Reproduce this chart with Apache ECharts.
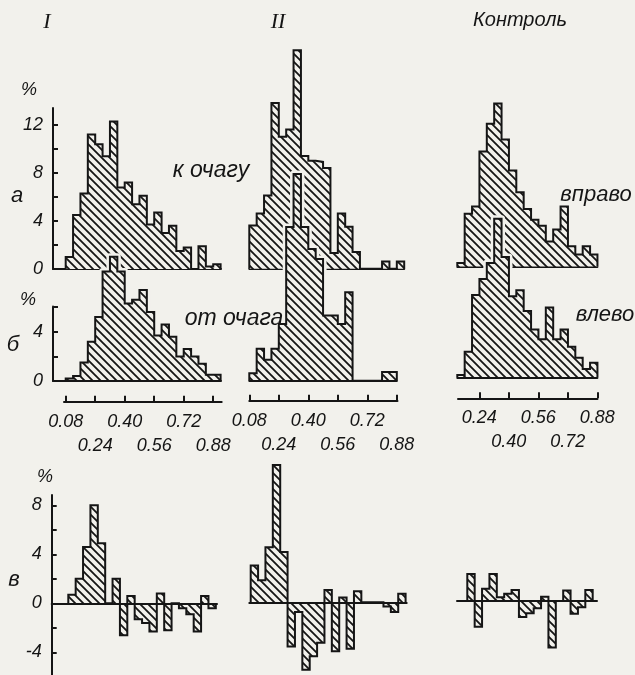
<!DOCTYPE html>
<html>
<head>
<meta charset="utf-8">
<script src="https://cdn.jsdelivr.net/npm/echarts@6/dist/echarts.min.js"></script>
<style>
  html, body { margin: 0; padding: 0; background: #f2f1ec; }
  #chart { width: 635px; height: 675px; }
</style>
</head>
<body>
<div id="chart"></div>
<script>
// ---- data: class frequencies (%) in bins of width 0.04 ----
const BIN = 0.04;

// Series I
const startI = 0.08;
const towardI = [1.0, 4.5, 6.3, 11.2, 10.4, 9.4, 12.3, 6.8, 7.2, 5.4, 6.1, 3.7, 4.7, 3.0, 3.6, 1.5, 1.8, 0, 1.9, 0.2, 0.4];
const awayI   = [0.2, 0.4, 1.5, 3.2, 5.2, 8.9, 10.1, 8.9, 6.3, 6.6, 7.4, 5.6, 3.7, 4.6, 3.6, 2.0, 2.6, 2.0, 1.4, 0.5, 0.5];
const diffI   = [0.7, 2.0, 4.6, 8.0, 4.9, 0, 2.0, -2.6, 0.6, -1.3, -1.6, -2.3, 0.8, -2.2, 0, -0.4, -0.9, -2.3, 0.6, -0.4];

// Series II
const startII = 0.08;
const towardII = [3.6, 4.6, 6.1, 13.8, 11.0, 11.6, 18.2, 9.4, 9.0, 8.9, 8.4, 1.3, 4.6, 3.5, 1.4, 0, 0, 0, 0.6, 0, 0.6];
const awayII   = [0.6, 2.6, 1.7, 2.6, 4.6, 12.5, 16.8, 12.5, 10.7, 9.9, 5.3, 5.3, 4.6, 7.2, 0, 0, 0, 0, 0.7, 0.7];
const diffII   = [3.0, 1.8, 4.5, 11.2, 4.1, -3.6, -0.8, -5.5, -4.4, -3.3, 1.0, -4.0, 0.4, -3.8, 0.9, 0, 0, 0, -0.35, -0.8, 0.7];

// Control
const startCtrl = 0.12;
const rightCtrl = [0.3, 4.4, 5.0, 9.6, 11.9, 13.6, 10.6, 8.0, 6.2, 4.8, 3.9, 3.4, 2.1, 3.1, 5.0, 1.7, 1.0, 1.7, 1.0];
const leftCtrl  = [0.2, 2.1, 6.7, 8.0, 9.3, 12.9, 9.8, 6.6, 7.1, 5.4, 3.9, 3.1, 5.7, 3.1, 3.9, 2.5, 1.6, 0.7, 1.2];
const startCtrlDiff = 0.16;
const diffCtrl  = [2.2, -2.1, 1.0, 2.2, 0.3, 0.6, 0.9, -1.3, -1.0, -0.6, 0.35, -3.8, 0, 0.85, -1.05, -0.5, 0.9];

// ---- tick values ----
const xTicksI = [0.08, 0.24, 0.40, 0.56, 0.72, 0.88];
const xTicksCtrl = [0.24, 0.40, 0.56, 0.72, 0.88];
const yTicksA = [0, 2, 4, 6, 8, 10, 12];
const yLabelsA = [0, 4, 8, 12];
const yTicksB = [0, 2, 4, 6];
const yLabelsB = [0, 4];
const yTicksC = [-4, -2, 0, 2, 4, 6, 8];
const yLabelsC = [-4, 0, 4, 8];

// ---- styling ----
const INK = '#151515';
const PAPER = '#f2f1ec';
const FONT = '"Liberation Sans", "DejaVu Sans", sans-serif';
const PX = 184.4;   // horizontal pixels per unit of the x value

function hatchCanvas() {
  const s = 8;
  const c = document.createElement('canvas');
  c.width = s; c.height = s;
  const g = c.getContext('2d');
  g.fillStyle = PAPER;
  g.fillRect(0, 0, s, s);
  g.strokeStyle = INK;
  g.lineWidth = 1.8;
  g.beginPath();
  g.moveTo(-1, -1); g.lineTo(s + 1, s + 1);
  g.moveTo(-1, s - 1); g.lineTo(1, s + 1);
  g.moveTo(s - 1, -1); g.lineTo(s + 1, 1);
  g.stroke();
  return c;
}
const HATCH = { image: hatchCanvas(), repeat: 'repeat' };

// outline of a histogram: corner points of every bin
function steps(start, vals) {
  const pts = [[start, 0]];
  vals.forEach((v, i) => {
    const x0 = start + i * BIN;
    pts.push([x0, v], [x0 + BIN, v]);
  });
  pts.push([start + vals.length * BIN, 0]);
  return pts;
}

const grids = [], xAxes = [], yAxes = [], series = [];

function addPanel(p) {
  const idx = grids.length;
  grids.push({
    left: p.left, top: p.top, width: p.right - p.left, height: p.bottom - p.top,
    containLabel: false, outerBoundsMode: 'none'
  });
  xAxes.push({
    gridIndex: idx, type: 'value',
    min: p.xRef[1] + (p.left - p.xRef[0]) / PX,
    max: p.xRef[1] + (p.right - p.xRef[0]) / PX,
    z: p.xz || 0,
    axisLine: { show: true, onZero: true, lineStyle: { color: INK, width: 2 } },
    axisTick: { show: false }, axisLabel: { show: false }, splitLine: { show: false }
  });
  const y = {
    gridIndex: idx, type: 'value',
    min: -(p.bottom - p.yZero) / p.yPx,
    max: (p.yZero - p.top) / p.yPx,
    splitLine: { show: false },
    axisLine: { show: false, onZero: false },
    axisTick: { show: false }, axisLabel: { show: false }
  };
  if (p.yTicks) {
    y.axisLine = { show: true, onZero: false, lineStyle: { color: INK, width: 2 } };
    y.axisTick = { show: true, inside: true, length: 5, customValues: p.yTicks, lineStyle: { color: INK, width: 2 } };
    y.axisLabel = {
      show: true, customValues: p.yLabels, margin: 10,
      showMinLabel: true, showMaxLabel: true, hideOverlap: false,
      color: INK, fontSize: 18, fontStyle: 'italic', fontFamily: FONT,
      formatter: v => (v < 0 ? '-' + Math.abs(v) : String(v))
    };
  }
  yAxes.push(y);
  return idx;
}

function addHist(idx, start, vals, z, halo) {
  const data = steps(start, vals);
  if (halo) {
    series.push({
      type: 'line', xAxisIndex: idx, yAxisIndex: idx, data,
      showSymbol: false, symbol: 'none', clip: false, silent: true, z: z - 1,
      lineStyle: { color: PAPER, width: 7, cap: 'round', join: 'round' },
      areaStyle: { color: PAPER, opacity: 1 }
    });
  }
  series.push({
    type: 'line', xAxisIndex: idx, yAxisIndex: idx, data,
    showSymbol: false, symbol: 'none', clip: false, silent: true, z,
    lineStyle: { color: INK, width: 2, join: 'miter' },
    areaStyle: { color: HATCH, opacity: 1 }
  });
}

// x scale with ticks; labels alternate between two rows
function addTickAxis(p) {
  const idx = grids.length;
  grids.push({ left: p.left, top: p.y - 10, width: p.right - p.left, height: 10, containLabel: false, outerBoundsMode: 'none' });
  const min = p.xRef[1] + (p.left - p.xRef[0]) / PX;
  const max = p.xRef[1] + (p.right - p.xRef[0]) / PX;
  const row1 = p.ticks.filter((t, i) => i % 2 === 0);
  const row2 = p.ticks.filter((t, i) => i % 2 === 1);
  const lbl = (values, margin) => ({
    show: true, customValues: values, margin,
    showMinLabel: true, showMaxLabel: true, hideOverlap: false,
    color: INK, fontSize: 18, fontStyle: 'italic', fontFamily: FONT,
    formatter: v => v.toFixed(2)
  });
  xAxes.push({
    gridIndex: idx, type: 'value', position: 'bottom', min, max,
    axisLine: { show: true, onZero: false, lineStyle: { color: INK, width: 2 } },
    axisTick: { show: true, inside: true, length: 6, customValues: p.ticks, lineStyle: { color: INK, width: 2 } },
    axisLabel: lbl(row1, 11),
    splitLine: { show: false }
  });
  xAxes.push({
    gridIndex: idx, type: 'value', position: 'bottom', min, max,
    axisLine: { show: false, onZero: false },
    axisTick: { show: false },
    axisLabel: lbl(row2, 35),
    splitLine: { show: false }
  });
  yAxes.push({ gridIndex: idx, type: 'value', show: false, min: 0, max: 1 });
}

// ---- column I ----
const iA = addPanel({ left: 53, right: 221, top: 108, bottom: 269, yZero: 269, yPx: 12, xRef: [65.7, 0.08], yTicks: yTicksA, yLabels: yLabelsA });
addHist(iA, startI, towardI, 2, false);
const iB = addPanel({ left: 53, right: 221, top: 306.5, bottom: 381, yZero: 381, yPx: 12.3, xRef: [65.7, 0.08], yTicks: yTicksB, yLabels: yLabelsB, xz: 6 });
addHist(iB, startI, awayI, 5, true);
const iC = addPanel({ left: 51.7, right: 217, top: 495, bottom: 675, yZero: 603.3, yPx: 12.25, xRef: [68.3, 0.08], yTicks: yTicksC, yLabels: yLabelsC, xz: 6 });
addHist(iC, startI, diffI, 2, false);

// ---- column II ----
const iiA = addPanel({ left: 249.3, right: 404.2, top: 40, bottom: 268.7, yZero: 268.7, yPx: 12, xRef: [249.3, 0.08] });
addHist(iiA, startII, towardII, 2, false);
const iiB = addPanel({ left: 249.3, right: 396.9, top: 306, bottom: 380.7, yZero: 380.7, yPx: 12.3, xRef: [249.3, 0.08], xz: 6 });
addHist(iiB, startII, awayII, 5, true);
const iiC = addPanel({ left: 249.3, right: 406.7, top: 495, bottom: 675, yZero: 602.3, yPx: 12.25, xRef: [250.7, 0.08], xz: 6 });
addHist(iiC, startII, diffII, 2, false);

// ---- control ----
const cA = addPanel({ left: 457.3, right: 597.4, top: 90, bottom: 266.6, yZero: 266.6, yPx: 12, xRef: [457.3, 0.12] });
addHist(cA, startCtrl, rightCtrl, 2, false);
const cB = addPanel({ left: 457.3, right: 597.4, top: 306, bottom: 377.5, yZero: 377.5, yPx: 12.3, xRef: [457.3, 0.12], xz: 6 });
addHist(cB, startCtrl, leftCtrl, 5, true);
const cC = addPanel({ left: 457, right: 597, top: 540, bottom: 665, yZero: 601, yPx: 12.25, xRef: [467.3, 0.16], xz: 6 });
addHist(cC, startCtrlDiff, diffCtrl, 2, false);

addTickAxis({ left: 64, right: 221.7, y: 401.7, xRef: [65.7, 0.08], ticks: xTicksI });
addTickAxis({ left: 249.3, right: 397.5, y: 400.7, xRef: [249.3, 0.08], ticks: xTicksI });
addTickAxis({ left: 458, right: 597.5, y: 398.3, xRef: [479.3, 0.24], ticks: xTicksCtrl });

// ---- free text ----
function txt(text, x, y, size, family) {
  return {
    type: 'text', x, y, z: 100, silent: true,
    style: {
      text, fill: INK, align: 'center', verticalAlign: 'middle',
      font: 'italic ' + size + 'px ' + (family || FONT)
    }
  };
}
const graphics = [
  txt('I', 47, 22, 22, '"Liberation Serif", serif'),
  txt('II', 278, 22, 22, '"Liberation Serif", serif'),
  txt('Контроль', 520, 20, 20),
  txt('%', 29, 90, 18),
  txt('%', 28, 300, 18),
  txt('%', 45, 477, 18),
  txt('а', 17, 196, 22),
  txt('б', 13, 345, 22),
  txt('в', 14, 580, 22),
  txt('к очагу', 211, 171, 23),
  txt('от очага', 234, 319, 23),
  txt('вправо', 596, 195, 22),
  txt('влево', 605, 315, 22)
];

const chart = echarts.init(document.getElementById('chart'), null, { renderer: 'canvas' });
chart.setOption({
  backgroundColor: PAPER,
  animation: false,
  grid: grids,
  xAxis: xAxes,
  yAxis: yAxes,
  series,
  graphic: graphics
});
</script>
</body>
</html>
